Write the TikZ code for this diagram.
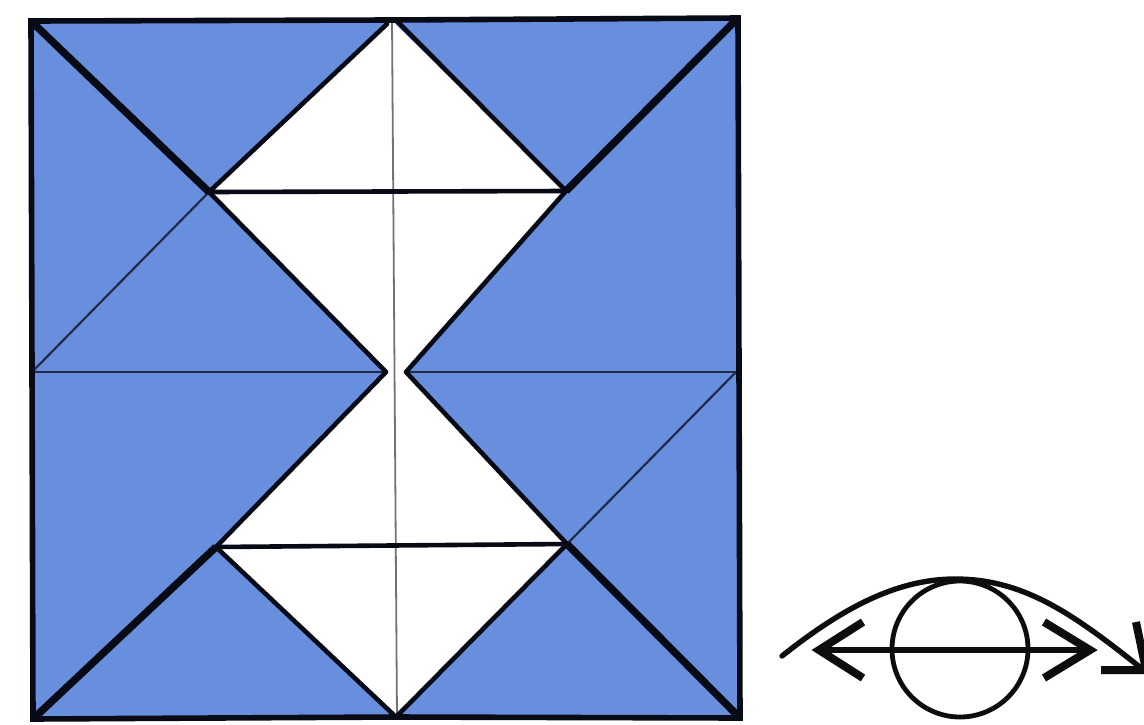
\documentclass[tikz,border=0pt]{standalone}
\definecolor{panelblue}{RGB}{104,143,222}
\definecolor{inkline}{RGB}{8,10,22}
\tikzset{
  crease/.style={draw=inkline,line width=4.6pt,line cap=round,line join=round},
  heavy/.style={draw=inkline,line width=7.5pt,line cap=butt},
  thinblue/.style={draw=inkline!75!panelblue,line width=2.2pt},
  axis/.style={draw=black!55,line width=1.8pt},
  eyeink/.style={draw=black!95,line width=5.4pt,line cap=round,line join=miter}
}
\begin{document}
\begin{tikzpicture}[x=1pt,y=-1pt]
\useasboundingbox (0,0) rectangle (1144,724);
\fill[white] (0,0) rectangle (1144,724);
\coordinate (TL) at (31,21);
\coordinate (TM) at (391,20);
\coordinate (TR) at (738,18);
\coordinate (RM) at (736,372);
\coordinate (BR) at (740,718);
\coordinate (BM) at (396,717);
\coordinate (BL) at (33,719);
\coordinate (LM) at (32,372);
\coordinate (A) at (209,192);
\coordinate (B) at (566,191);
\coordinate (C) at (216,547);
\coordinate (D) at (567,544);
\coordinate (CL) at (386,372);
\coordinate (CR) at (406,372);
\fill[panelblue] (TL) -- (TM) -- (TR) -- (BR) -- (BM) -- (BL) -- cycle;
\fill[white] (TM) -- (B) -- (CR) -- (D) -- (BM) -- (C) -- (CL) -- (A) -- cycle;
% thin lines
\draw[axis] (392,20) -- (397,717);
\draw[thinblue] (A) -- (LM);
\draw[thinblue] (D) -- (RM);
\draw[thinblue] (LM) -- (CL);
\draw[thinblue] (CR) -- (RM);
% outlined folds
\draw[crease] (A) -- (CL) -- (C);
\draw[crease] (B) -- (CR) -- (D);
\draw[crease] (A) -- (B);
\draw[crease] (C) -- (D);
\draw[crease] (A) -- (387,24);
\draw[crease] (B) -- (398,22);
\draw[crease] (C) -- (BM) -- (D);
% heavy diagonals
\draw[heavy] (TL) -- (A);
\draw[heavy] (TR) -- (B);
\draw[heavy] (BL) -- (C);
\draw[heavy] (BR) -- (D);
% frame
\draw[draw=inkline,line width=5.6pt,line join=miter] (TL) -- (TM) -- (TR) -- (BR) -- (BM) -- (BL) -- cycle;
% eye symbol
\node[circle,draw=black!95,line width=4.8pt,minimum size=136pt,inner sep=0pt] (iris) at (960,649) {};
\coordinate (arcL) at (782,656);
\coordinate (arcT) at (955,579);
\coordinate (arcR) at (1146,672);
\coordinate (leftTip) at (819,650);
\coordinate (rightTip) at (1090,650);
\draw[eyeink] (leftTip) -- (rightTip);
\draw[eyeink] (arcL) .. controls (840,610) and (895,579) .. (arcT) .. controls (1025,579) and (1075,615) .. (arcR);
\draw[eyeink,line width=8pt,line cap=butt] (863,622) -- (leftTip) -- (863,678);
\draw[eyeink,line width=8pt,line cap=butt] (1044,622) -- (rightTip) -- (1044,678);
\draw[eyeink,line width=8pt,line cap=butt] (1136,622) -- (1146,670) -- (1101,670);
\end{tikzpicture}
\end{document}
